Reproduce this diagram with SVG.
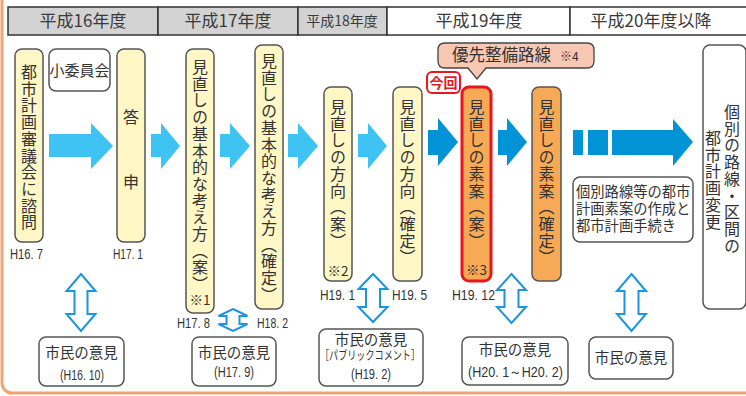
<svg xmlns="http://www.w3.org/2000/svg" width="746" height="396" viewBox="0 0 746 396">
<style>
text{font-family:"Noto Sans CJK JP","Noto Sans",sans-serif;fill:#333}
.hd{font-size:17px;text-anchor:middle;fill:#3a3a3a}
.v{writing-mode:vertical-rl;font-size:16px;letter-spacing:0.7px}
.h{font-size:16px;text-anchor:middle}
.dt{font-family:"Liberation Sans",sans-serif;font-size:15px;fill:#333}
.note{font-size:13.5px;text-anchor:middle}
.yel{fill:#fff8c6;stroke:#555;stroke-width:1.5}
.org{fill:#f7aa55;stroke:#555;stroke-width:1.5}
.wht{fill:#fff;stroke:#555;stroke-width:1.5}
.la{fill:#3fc3f2}
.da{fill:#0094d6}
.dbl{fill:#fff;stroke:#1b95dc;stroke-width:2;stroke-linejoin:miter}
.cit{font-size:14.5px;text-anchor:middle}
.ml{font-size:14.3px}
</style>
<rect x="2" y="-20" width="760" height="413" rx="10" fill="#fff" stroke="#f2a373" stroke-width="3"/>
<g id="header">
<rect x="8" y="7" width="150" height="28" fill="#d3d3d3" stroke="#333" stroke-width="1.5"/>
<rect x="158" y="7" width="140" height="28" fill="#d3d3d3" stroke="#333" stroke-width="1.5"/>
<rect x="298" y="7" width="89" height="28" fill="#d3d3d3" stroke="#333" stroke-width="1.5"/>
<rect x="387" y="7" width="183" height="28" fill="#fff" stroke="#333" stroke-width="1.5"/>
<rect x="570" y="7" width="180" height="28" fill="#fff" stroke="#333" stroke-width="1.5"/>
<text class="hd" x="83" y="27">平成16年度</text>
<text class="hd" x="228" y="27">平成17年度</text>
<text class="hd" x="342" y="26" style="font-size:14px">平成18年度</text>
<text class="hd" x="479" y="27">平成19年度</text>
<text class="hd" x="651" y="27">平成20年度以降</text>
</g>
<g id="connectors">
<polygon class="la" points="49,134 91,134 91,123 113,146 91,169 91,157 49,157"/>
<polygon class="la" points="151,134 161,134 161,123 180,146 161,169 161,157 151,157"/>
<polygon class="la" points="220,134 230,134 230,123 250,146 230,169 230,157 220,157"/>
<polygon class="la" points="288,134 298,134 298,123 318,146 298,169 298,157 288,157"/>
<polygon class="la" points="358,134 368,134 368,123 387,146 368,169 368,157 358,157"/>
<polygon class="da" points="428,130 438,130 438,118 458,142 438,166 438,155 428,155"/>
<polygon class="da" points="498,130 507,130 507,118 527,142 507,166 507,155 498,155"/>
<rect class="da" x="573" y="130" width="10" height="25"/>
<rect class="da" x="588" y="130" width="20" height="25"/>
<polygon class="da" points="612,130 673,130 673,119 693,142 673,166 673,155 612,155"/>
<path class="dbl" d="M81,274 L95.5,291 L87.5,291 L87.5,314 L95.5,314 L81,331 L66.5,314 L74.5,314 L74.5,291 L66.5,291 Z"/>
<path class="dbl" d="M233,309 L247.5,316 L239.5,316 L239.5,324 L247.5,324 L233,331 L218.5,324 L226.5,324 L226.5,316 L218.5,316 Z"/>
<path class="dbl" d="M373,274 L387.5,289 L380,289 L380,307 L387.5,307 L373,322 L358.5,307 L366,307 L366,289 L358.5,289 Z"/>
<path class="dbl" d="M511.5,274 L526,290 L518.5,290 L518.5,307 L526,307 L511.5,323 L497,307 L504.5,307 L504.5,290 L497,290 Z"/>
<path class="dbl" d="M631.5,274 L646,291 L638.5,291 L638.5,314 L646,314 L631.5,331 L617,314 L624.5,314 L624.5,291 L617,291 Z"/>
</g>
<g id="n1"><rect class="yel" x="15" y="49" width="28" height="193" rx="7"/><text class="v" x="29" y="64">都市計画審議会に諮問</text></g>
<g id="n2"><rect class="wht" x="49" y="49" width="61" height="42" rx="7"/><text class="h" x="79.5" y="76" style="font-size:15px">小委員会</text></g>
<g id="n3"><rect class="yel" x="117" y="49" width="28" height="193" rx="7"/><text class="h" x="131" y="123">答</text><text class="h" x="131" y="188">申</text></g>
<g id="n4"><rect class="yel" x="186" y="49" width="28" height="264" rx="7"/><text class="v" x="200" y="59">見直しの基本的な考え方（案）</text><text class="note" x="200" y="305">※1</text></g>
<g id="n5"><rect class="yel" x="255" y="45" width="28" height="264" rx="7"/><text class="v" x="269" y="53">見直しの基本的な考え方（確定）</text></g>
<g id="n6"><rect class="yel" x="324" y="87" width="28" height="194" rx="7"/><text class="v" x="338" y="99">見直しの方向（案）</text><text class="note" x="338" y="276">※2</text></g>
<g id="n7"><rect class="yel" x="393" y="87" width="29" height="194" rx="7"/><text class="v" x="407.5" y="99">見直しの方向（確定）</text></g>
<g id="n8"><rect x="462" y="87" width="29" height="194" rx="7" fill="#f7aa55" stroke="#e8161e" stroke-width="3"/><text class="v" x="476.5" y="99">見直しの素案（案）</text><text class="note" x="476.5" y="275">※3</text></g>
<g id="n9"><rect class="org" x="532" y="87" width="29" height="194" rx="7"/><text class="v" x="546.5" y="99">見直しの素案（確定）</text></g>
<g id="n10"><rect class="wht" x="703" y="45" width="43" height="264" rx="7"/><text class="v" x="732" y="104">個別の路線・区間の</text><text class="v" x="713" y="130">都市計画変更</text></g>
<g id="bubble"><path d="M445,43 H587 Q594,43 594,50 V61 Q594,68 587,68 H486 L477,79 L468,68 H445 Q438,68 438,61 V50 Q438,43 445,43 Z" fill="#f9c8b4" stroke="#444" stroke-width="1.3"/><text x="452" y="61" style="font-size:16.5px">優先整備路線</text><text x="560" y="61" style="font-size:12px">※4</text></g>
<g id="konkai"><rect x="427" y="72" width="33" height="21" rx="5" fill="#fff" stroke="#e8161e" stroke-width="2"/><text x="443.5" y="88" style="font-size:14px;font-weight:bold;fill:#e8161e;text-anchor:middle">今回</text></g>
<g id="dates">
<text class="dt" x="10" y="259" textLength="33" lengthAdjust="spacingAndGlyphs">H16. 7</text>
<text class="dt" x="113" y="259" textLength="30" lengthAdjust="spacingAndGlyphs">H17. 1</text>
<text class="dt" x="177" y="328" textLength="33" lengthAdjust="spacingAndGlyphs">H17. 8</text>
<text class="dt" x="257" y="328" textLength="31" lengthAdjust="spacingAndGlyphs">H18. 2</text>
<text class="dt" x="320" y="300" textLength="35" lengthAdjust="spacingAndGlyphs">H19. 1</text>
<text class="dt" x="392" y="300" textLength="35" lengthAdjust="spacingAndGlyphs">H19. 5</text>
<text class="dt" x="452" y="300" textLength="43" lengthAdjust="spacingAndGlyphs">H19. 12</text>
</g>
<g id="c1"><rect class="wht" x="39" y="337" width="85" height="49" rx="7"/><text class="cit" x="81.5" y="358">市民の意見</text><text class="dt" x="60" y="380" textLength="44" lengthAdjust="spacingAndGlyphs">(H16. 10)</text></g>
<g id="c2"><rect class="wht" x="192" y="337" width="84" height="49" rx="7"/><text class="cit" x="234" y="358">市民の意見</text><text class="dt" x="214" y="377" textLength="40" lengthAdjust="spacingAndGlyphs">(H17. 9)</text></g>
<g id="c3"><rect class="wht" x="319" y="329" width="104" height="57" rx="7"/><text class="cit" x="371" y="345">市民の意見</text><text x="320" y="360" textLength="100" lengthAdjust="spacingAndGlyphs" style="font-size:12px">［パブリックコメント］</text><text class="dt" x="351" y="379" textLength="40" lengthAdjust="spacingAndGlyphs">(H19. 2)</text></g>
<g id="c4"><rect class="wht" x="462" y="337" width="106" height="48" rx="7"/><text class="cit" x="515" y="355">市民の意見</text><text class="dt" x="468" y="377" textLength="95" lengthAdjust="spacingAndGlyphs">(H20. 1～H20. 2)</text></g>
<g id="c5"><rect class="wht" x="589" y="337" width="84" height="42" rx="7"/><text class="cit" x="631" y="363">市民の意見</text></g>
<g id="n11"><rect class="wht" x="573" y="177" width="120" height="65" rx="7"/><text class="ml" x="576" y="197">個別路線等の都市</text><text class="ml" x="576" y="214">計画素案の作成と</text><text class="ml" x="576" y="231">都市計画手続き</text></g>
</svg>
